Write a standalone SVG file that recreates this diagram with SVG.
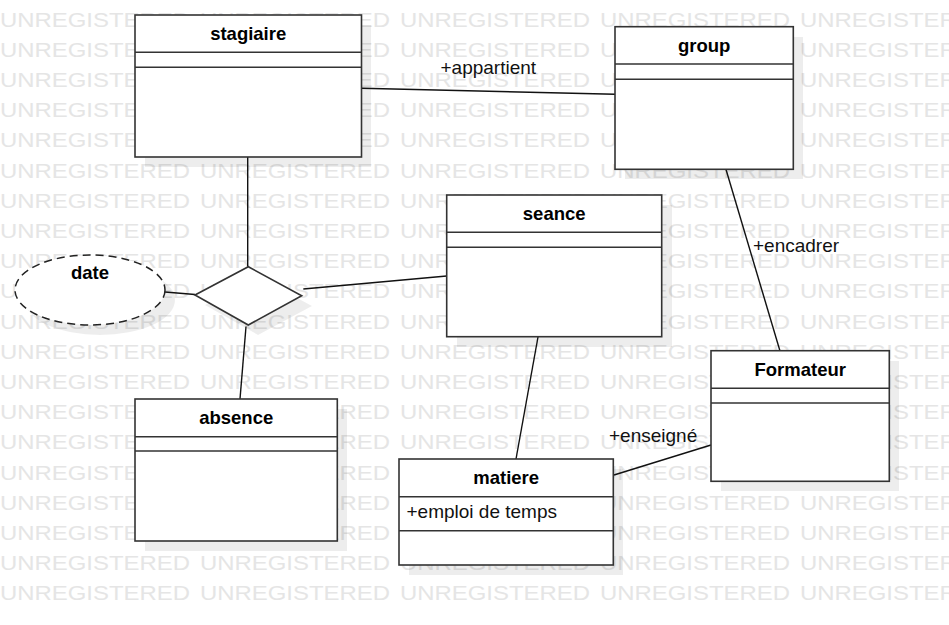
<svg xmlns="http://www.w3.org/2000/svg" xmlns:xlink="http://www.w3.org/1999/xlink" width="949" height="625" viewBox="0 0 949 625">
<style>
.wm{font-family:"Liberation Sans",Arial,sans-serif;font-size:21px;fill:#e5e5e5}
.box{fill:#fff;stroke:#333;stroke-width:1.6}
.sep{stroke:#333;stroke-width:1.6;fill:none}
.shadow{fill:#000;opacity:0.07}
.title{font-family:"Liberation Sans",Arial,sans-serif;font-size:18.5px;font-weight:bold;fill:#000;text-anchor:middle}
.lbl{font-family:"Liberation Sans",Arial,sans-serif;font-size:19px;fill:#111}
.conn line{stroke:#111;stroke-width:1.4}
</style>
<defs>
<g id="wmrow">
<text class="wm" x="0" textLength="190" lengthAdjust="spacingAndGlyphs">UNREGISTERED</text>
<text class="wm" x="200" textLength="190" lengthAdjust="spacingAndGlyphs">UNREGISTERED</text>
<text class="wm" x="400" textLength="190" lengthAdjust="spacingAndGlyphs">UNREGISTERED</text>
<text class="wm" x="600" textLength="190" lengthAdjust="spacingAndGlyphs">UNREGISTERED</text>
<text class="wm" x="800" textLength="190" lengthAdjust="spacingAndGlyphs">UNREGISTERED</text>
</g>
</defs>
<rect width="949" height="625" fill="#fff"/>
<g id="watermark">
<use xlink:href="#wmrow" y="26.5"/>
<use xlink:href="#wmrow" y="56.7"/>
<use xlink:href="#wmrow" y="86.9"/>
<use xlink:href="#wmrow" y="117.1"/>
<use xlink:href="#wmrow" y="147.3"/>
<use xlink:href="#wmrow" y="177.5"/>
<use xlink:href="#wmrow" y="207.7"/>
<use xlink:href="#wmrow" y="237.9"/>
<use xlink:href="#wmrow" y="268.1"/>
<use xlink:href="#wmrow" y="298.3"/>
<use xlink:href="#wmrow" y="328.5"/>
<use xlink:href="#wmrow" y="358.7"/>
<use xlink:href="#wmrow" y="388.9"/>
<use xlink:href="#wmrow" y="419.1"/>
<use xlink:href="#wmrow" y="449.3"/>
<use xlink:href="#wmrow" y="479.5"/>
<use xlink:href="#wmrow" y="509.7"/>
<use xlink:href="#wmrow" y="539.9"/>
<use xlink:href="#wmrow" y="570.1"/>
<use xlink:href="#wmrow" y="600.3"/>
</g>
<g id="shadows">
<rect class="shadow" x="145" y="25" width="226" height="142"/>
<rect class="shadow" x="625" y="37" width="178" height="142"/>
<rect class="shadow" x="457" y="205" width="215" height="142"/>
<rect class="shadow" x="145" y="409" width="202" height="142"/>
<rect class="shadow" x="721" y="361" width="178" height="130"/>
<rect class="shadow" x="409" y="469" width="214" height="106"/>
<ellipse class="shadow" cx="100" cy="300" rx="75" ry="35"/>
<polygon class="shadow" points="205,305 258,277 312,306 258,335"/>
</g>
<g id="connectors" class="conn">
<line x1="361.7" y1="88.3" x2="615" y2="94.3"/>
<line x1="247.7" y1="157" x2="247.7" y2="266.7"/>
<line x1="303.3" y1="289" x2="446.7" y2="276"/>
<line x1="165" y1="292" x2="195" y2="294.5"/>
<line x1="246" y1="326.5" x2="240" y2="399"/>
<line x1="538" y1="337" x2="516" y2="459"/>
<line x1="726" y1="169.5" x2="780" y2="351"/>
<line x1="614" y1="475" x2="711" y2="445"/>
</g>
<g id="labels">
<text class="lbl" x="440.5" y="73.5">+appartient</text>
<text class="lbl" x="753" y="252">+encadrer</text>
<text class="lbl" x="609" y="442">+enseigné</text>
</g>
<g id="stagiaire">
<rect class="box" x="135" y="15" width="226.5" height="142"/>
<line class="sep" x1="135" y1="52.3" x2="361.5" y2="52.3"/>
<line class="sep" x1="135" y1="67.3" x2="361.5" y2="67.3"/>
<text class="title" x="248.2" y="40">stagiaire</text>
</g>
<g id="group">
<rect class="box" x="615" y="26.7" width="178.3" height="142.6"/>
<line class="sep" x1="615" y1="64" x2="793.3" y2="64"/>
<line class="sep" x1="615" y1="79.3" x2="793.3" y2="79.3"/>
<text class="title" x="704.2" y="52">group</text>
</g>
<g id="seance">
<rect class="box" x="446.7" y="195" width="215" height="141.7"/>
<line class="sep" x1="446.7" y1="232.3" x2="661.7" y2="232.3"/>
<line class="sep" x1="446.7" y1="247.3" x2="661.7" y2="247.3"/>
<text class="title" x="554.2" y="220">seance</text>
</g>
<g id="absence">
<rect class="box" x="135" y="399" width="202.3" height="142"/>
<line class="sep" x1="135" y1="436.7" x2="337.3" y2="436.7"/>
<line class="sep" x1="135" y1="451" x2="337.3" y2="451"/>
<text class="title" x="236.2" y="424">absence</text>
</g>
<g id="Formateur">
<rect class="box" x="711" y="350.7" width="178.3" height="130.6"/>
<line class="sep" x1="711" y1="388.3" x2="889.3" y2="388.3"/>
<line class="sep" x1="711" y1="403" x2="889.3" y2="403"/>
<text class="title" x="800.2" y="376">Formateur</text>
</g>
<g id="matiere">
<rect class="box" x="399" y="459" width="214.3" height="106"/>
<line class="sep" x1="399" y1="496.7" x2="613.3" y2="496.7"/>
<line class="sep" x1="399" y1="530.7" x2="613.3" y2="530.7"/>
<text class="title" x="506.2" y="484">matiere</text>
<text class="lbl" x="406.5" y="517.5">+emploi de temps</text>
</g>
<g id="relation">
<polygon class="box" points="195,295 248.3,266.7 301.7,295.7 248.3,325"/>
</g>
<g id="date">
<ellipse cx="90" cy="290" rx="75" ry="35" fill="#fff" stroke="#222" stroke-width="1.5" stroke-dasharray="8,5"/>
<text class="title" x="90" y="279">date</text>
</g>
</svg>
